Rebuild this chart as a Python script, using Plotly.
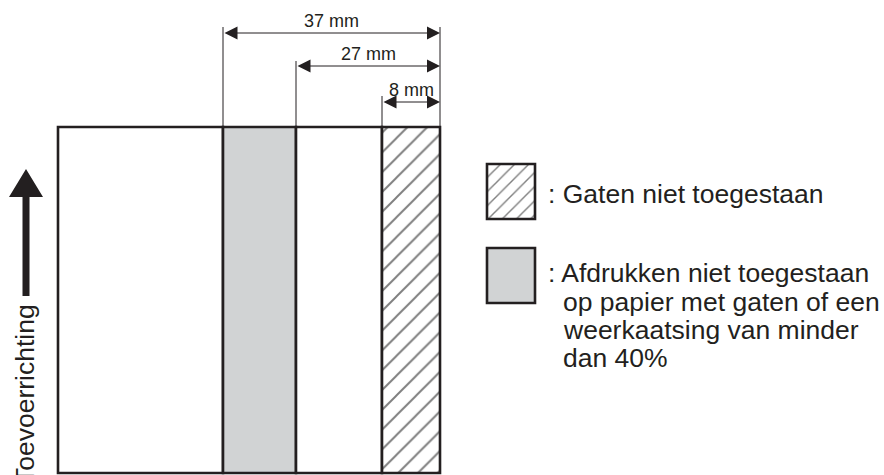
"""Feed-direction diagram: zones on the page where holes / printing are not allowed."""
import plotly.graph_objects as go

# zone edges across the page (drawing units, left to right) and what each zone is
zone_edges = [58, 223, 296, 382, 440]
zone_kind = ["plain", "gray", "plain", "hatch"]
page_top, page_bottom = 127, 473

# dimension callouts, measured from the right page edge
dim_labels = ["37 mm", "27 mm", "8 mm"]
dim_from_edge = [1, 2, 3]  # index into zone_edges

feed_label = "Toevoerrichting"
legend_kind = ["hatch", "gray"]
legend_lines = [
    ["Gaten niet toegestaan"],
    ["Afdrukken niet toegestaan", "op papier met gaten of een",
     "weerkaatsing van minder", "dan 40%"],
]

FONT = "Arial, Liberation Sans, sans-serif"
GRAY = "#d1d3d4"
INK = "#231f20"


def _box(fig, x0, x1, y0, y1, kind, hatch_size):
    pattern = {"shape": ""}
    if kind == "hatch":
        pattern = {"shape": "/", "size": hatch_size, "solidity": 0.14,
                   "fgcolor": "#000000", "bgcolor": "white", "fillmode": "overlay"}
    fig.add_trace(go.Bar(
        x=[(x0 + x1) / 2], width=[x1 - x0], y=[y1 - y0], base=[y0],
        marker={"color": GRAY if kind == "gray" else "white",
                "line": {"color": INK, "width": 2.6}, "pattern": pattern},
        hoverinfo="skip", showlegend=False,
    ))


fig = go.Figure()

# page zones
for i, kind in enumerate(zone_kind):
    _box(fig, zone_edges[i], zone_edges[i + 1], page_top, page_bottom, kind, 14)

# dimension lines
right = zone_edges[-1]
dim_y = [33, 66, 102]
ext_top = [27, 61, 96]
for label, idx, y, top in zip(dim_labels, dim_from_edge, dim_y, ext_top):
    left = zone_edges[idx]
    fig.add_shape(type="line", x0=left, x1=left, y0=top, y1=page_top,
                  line={"color": INK, "width": 1})
    fig.add_annotation(x=right, y=y, ax=left, ay=y, axref="x", ayref="y",
                       text="", showarrow=True, arrowhead=2, arrowside="end+start",
                       arrowsize=2.6, arrowwidth=1, arrowcolor=INK, standoff=0,
                       startstandoff=0)
    fig.add_annotation(x=(left + right) / 2, y=y - 12,
                       text=label, showarrow=False, xanchor="center", yanchor="middle",
                       font={"family": FONT, "size": 18, "color": INK})
fig.add_shape(type="line", x0=right, x1=right, y0=ext_top[0], y1=page_top,
              line={"color": INK, "width": 1})

# feed direction arrow and label
fig.add_shape(type="path",
              path="M 22.5 296 L 22.5 197 L 9 197 L 26 169 L 43 197 L 29.5 197 L 29.5 296 Z",
              fillcolor=INK, line={"width": 0})
fig.add_annotation(x=25, y=394, text=feed_label, textangle=-90, showarrow=False,
                   xanchor="center", yanchor="middle",
                   font={"family": FONT, "size": 26.5, "color": INK})

# legend
box_top = [164, 248]
line_y = [[194], [273, 302, 330, 358]]
for kind, top, lines, ys in zip(legend_kind, box_top, legend_lines, line_y):
    _box(fig, 487, 535, top, top + 55, kind, 10)
    for j, (txt, y) in enumerate(zip(lines, ys)):
        fig.add_annotation(x=546 if j == 0 else 561, y=y,
                           text=(": " + txt) if j == 0 else txt,
                           showarrow=False, xanchor="left", yanchor="middle",
                           font={"family": FONT, "size": 26.5, "color": INK})

fig.update_layout(
    width=884, height=475,
    margin={"l": 0, "r": 0, "t": 0, "b": 0},
    paper_bgcolor="white", plot_bgcolor="white",
    barmode="overlay", bargap=0,
    xaxis={"range": [0, 884], "visible": False, "fixedrange": True},
    yaxis={"range": [475, 0], "visible": False, "fixedrange": True},
)
# drop the browser's default page margin so the figure sits at the window corner
fig.write_html("out.html", config={"staticPlot": True},
               post_script="document.body.style.margin='0';document.body.style.overflow='hidden';")
